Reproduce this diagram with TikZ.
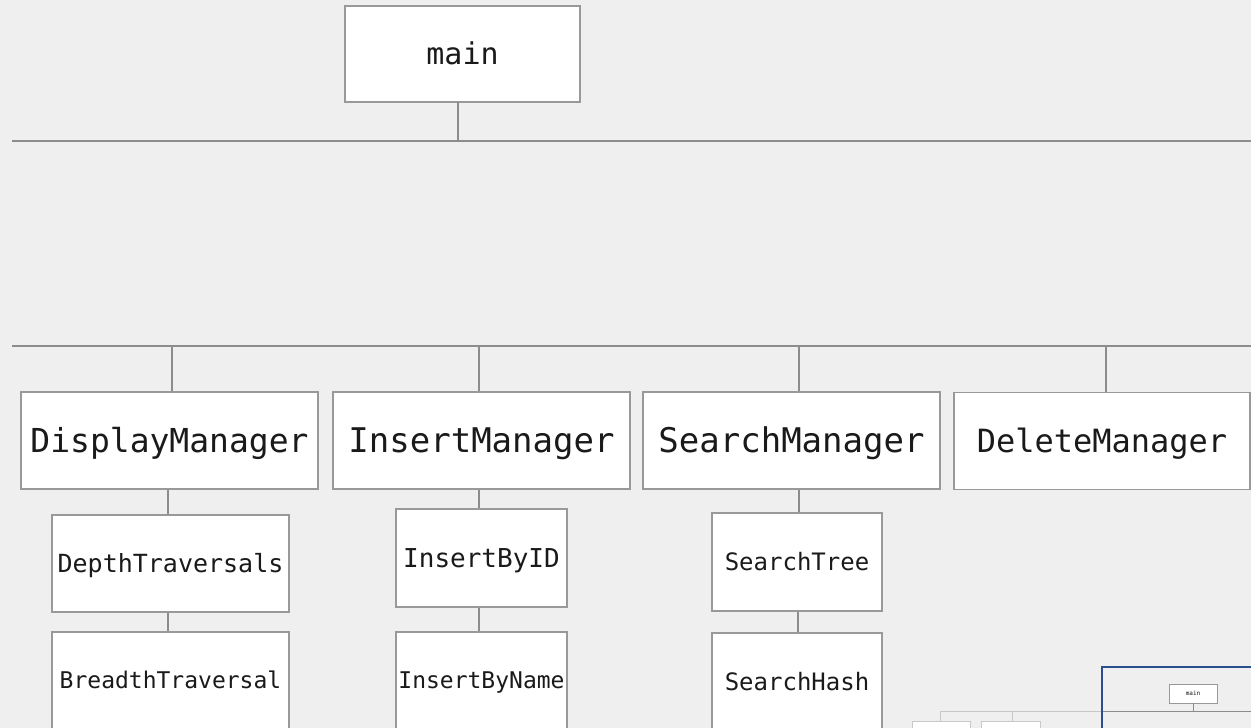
\documentclass[tikz,border=0pt]{standalone}
\usepackage{fontspec}
\newfontfamily\pix{DejaVu Sans Mono}
\definecolor{bg}{HTML}{EFEFEF}
\definecolor{ln}{HTML}{8C8C8C}
\definecolor{bd}{HTML}{999999}
\definecolor{txt}{HTML}{1A1A1A}
\definecolor{mm}{HTML}{2A4E8E}
\definecolor{mmlight}{HTML}{C8C8C8}
\newcommand{\fs}[1]{\pix\fontsize{#1}{#1}\selectfont}
\begin{document}
\begin{tikzpicture}[x=1pt,y=-1pt,
  box/.style={draw=bd, line width=1.5pt, fill=white, inner sep=0pt, text=txt, anchor=center},
  fsz/.style={font=\fs{#1}, text height={0.72*#1 pt}, text depth=0pt},
  bus/.style={draw=ln, line width=2.2pt},
  tick/.style={draw=ln, line width=1.8pt},
  mmbox/.style={draw=bd, line width=0.8pt, fill=white, inner sep=0pt, text=txt},
  mmlightbox/.style={draw=mmlight, line width=0.8pt, fill=white, inner sep=0pt},
  mmline/.style={draw=ln, line width=0.9pt},
  mmlightline/.style={draw=mmlight, line width=0.9pt}]
\path[use as bounding box, fill=bg] (0,0) rectangle (1251,728);
\clip (0,0) rectangle (1251,728);

% main
\node[box, minimum width=235pt, minimum height=96pt, fsz=30] (main) at (462.5,54) {main};
\coordinate (mainc) at (458,102);
\coordinate (b1l) at (12,141);
\coordinate (b1r) at (1251,141);
\coordinate (b1m) at (458,141);
\draw[bus] (b1l) -- (b1r);
\draw[tick] (mainc) -- (b1m);

% second bus
\coordinate (b2l) at (12,346);
\coordinate (b2r) at (1251,346);
\draw[bus] (b2l) -- (b2r);

% managers
\node[box, minimum width=297pt, minimum height=97pt, fsz=33] (dm) at (169.5,440.5) {DisplayManager};
\node[box, minimum width=297pt, minimum height=97pt, fsz=34] (im) at (481.5,440.5) {InsertManager};
\node[box, minimum width=297pt, minimum height=97pt, fsz=34] (sm) at (791.5,440.5) {SearchManager};
\node[box, minimum width=296pt, minimum height=97pt, fsz=32] (delm) at (1102,441) {DeleteManager};

\coordinate (t1) at (172,346);
\coordinate (t2) at (479,346);
\coordinate (t3) at (799,346);
\coordinate (t4) at (1106,346);
\draw[tick] (t1) -- (t1 |- dm.north);
\draw[tick] (t2) -- (t2 |- im.north);
\draw[tick] (t3) -- (t3 |- sm.north);
\draw[tick] (t4) -- (t4 |- delm.north);

% display column
\node[box, minimum width=237pt, minimum height=97pt, fsz=25] (dt) at (170.5,563.5) {DepthTraversals};
\node[box, minimum width=237pt, minimum height=97pt, fsz=23] (bt) at (170.5,680.5) {BreadthTraversal};
\coordinate (c1) at (168,0);
\draw[tick] (c1 |- dm.south) -- (c1 |- dt.north);
\draw[tick] (c1 |- dt.south) -- (c1 |- bt.north);

% insert column
\node[box, minimum width=171pt, minimum height=98pt, fsz=26] (ibid) at (481.5,558) {InsertByID};
\node[box, minimum width=171pt, minimum height=97pt, fsz=23] (ibn) at (481.5,680.5) {InsertByName};
\coordinate (c2) at (479,0);
\draw[tick] (c2 |- im.south) -- (c2 |- ibid.north);
\draw[tick] (c2 |- ibid.south) -- (c2 |- ibn.north);

% search column
\node[box, minimum width=170pt, minimum height=98pt, fsz=24] (st) at (797,562) {SearchTree};
\node[box, minimum width=170pt, minimum height=97pt, fsz=24] (sh) at (797,681.5) {SearchHash};
\coordinate (c3) at (799,0);
\coordinate (c4) at (798,0);
\draw[tick] (c3 |- sm.south) -- (c3 |- st.north);
\draw[tick] (c4 |- st.south) -- (c4 |- sh.north);

% minimap
\coordinate (m1) at (940,711);
\coordinate (m2) at (1012,711);
\coordinate (m3) at (1102,711);
\coordinate (m4) at (1251,711);
\node[mmlightbox, minimum width=58pt, minimum height=30pt] (mb1) at (941,736) {};
\node[mmlightbox, minimum width=59pt, minimum height=30pt] (mb2) at (1010.5,736) {};
\draw[mmlightline] (m1) -- (m3);
\draw[mmlightline] (m1) -- (m1 |- mb1.north);
\draw[mmlightline] (m2) -- (m2 |- mb2.north);
\draw[mmline] (m3) -- (m4);
\node[mmbox, minimum width=48pt, minimum height=19pt, font=\fs{6}] (mmain) at (1193,693.5) {main};
\draw[mmline] (mmain.south) -- (mmain.south |- m3);
\coordinate (v1) at (1102,760);
\coordinate (v2) at (1102,667);
\coordinate (v3) at (1270,667);
\draw[draw=mm, line width=2pt] (v1) -- (v2) -- (v3);
\end{tikzpicture}
\end{document}
